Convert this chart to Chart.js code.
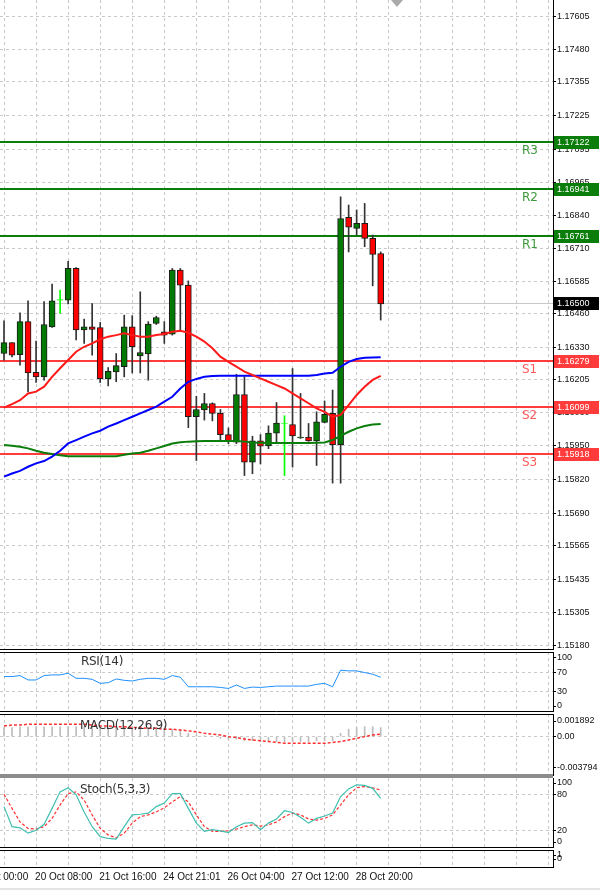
<!DOCTYPE html>
<html><head><meta charset="utf-8">
<script src="https://cdn.jsdelivr.net/npm/chart.js@4"></script>
<style>
body{margin:0;background:#fff;width:600px;height:890px;position:relative;overflow:hidden;font-family:"Liberation Sans",Arial,sans-serif}
canvas{position:absolute;left:0}
.t{position:absolute;font-family:"DejaVu Sans",sans-serif;font-size:12px;color:#333;letter-spacing:-0.3px}
.tri{position:absolute;left:391px;top:0;width:0;height:0;border-left:6px solid transparent;border-right:6px solid transparent;border-top:7px solid #aaa}
</style></head><body>
<canvas id="main" width="600" height="650" style="top:0"></canvas>
<canvas id="rsi" width="600" height="60" style="top:652px"></canvas>
<canvas id="macd" width="600" height="62" style="top:714px"></canvas>
<canvas id="stoch" width="600" height="70" style="top:778px"></canvas>
<canvas id="last" width="600" height="40" style="top:850px"></canvas>
<div style="position:absolute;left:0;top:774px;width:553px;height:4px;background:#8c8c8c"></div>
<div style="position:absolute;left:0;top:888px;width:600px;height:2px;background:#e4e4e4"></div>
<div class="tri"></div>
<div class="t" style="left:81px;top:654px">RSI(14)</div>
<div class="t" style="left:80px;top:718px">MACD(12,26,9)</div>
<div class="t" style="left:80px;top:782px">Stoch(5,3,3)</div>
<script>
// ---- data ----
const slotCount = 69;
const open  = [1.16306,1.16348,1.16302,1.16429,1.16233,1.16216,1.16409,1.16512,1.16512,1.16635,1.16397,1.16409,1.16406,1.16208,1.16235,1.16255,1.16409,1.16297,1.16304,1.16422,1.16390,1.16381,1.16628,1.16570,1.16062,1.16088,1.16113,1.16075,1.15993,1.15964,1.16148,1.15887,1.15969,1.15949,1.15999,1.16036,1.16032,1.15980,1.15984,1.15969,1.16040,1.16075,1.15954,1.16831,1.16789,1.16808,1.16750,1.16692];
const high  = [1.16432,1.16348,1.16463,1.16509,1.16354,1.16506,1.16574,1.16551,1.16662,1.16638,1.16439,1.16499,1.16426,1.16252,1.16306,1.16454,1.16452,1.16544,1.16429,1.16450,1.16429,1.16634,1.16634,1.16586,1.16141,1.16152,1.16116,1.16090,1.16019,1.16226,1.16216,1.15987,1.15993,1.16027,1.16117,1.16066,1.16248,1.16152,1.16036,1.16081,1.16123,1.16165,1.16911,1.16879,1.16860,1.16885,1.16763,1.16698];
const low   = [1.16280,1.16293,1.16261,1.16158,1.16194,1.16203,1.16407,1.16461,1.16497,1.16358,1.16345,1.16300,1.16194,1.16181,1.16197,1.16216,1.16231,1.16231,1.16203,1.16418,1.16345,1.16377,1.16397,1.16020,1.15893,1.16049,1.16046,1.15967,1.15958,1.15958,1.15835,1.15842,1.15880,1.15939,1.15958,1.15835,1.15868,1.15978,1.15967,1.15874,1.16038,1.15806,1.15806,1.16698,1.16763,1.16718,1.16567,1.16435];
const close = [1.16348,1.16300,1.16429,1.16231,1.16216,1.16418,1.16509,1.16512,1.16635,1.16397,1.16409,1.16399,1.16209,1.16237,1.16259,1.16409,1.16332,1.16310,1.16420,1.16445,1.16377,1.16628,1.16570,1.16062,1.16090,1.16113,1.16075,1.15993,1.15967,1.16148,1.15887,1.15969,1.15948,1.15999,1.16038,1.16036,1.15988,1.15984,1.15969,1.16042,1.16071,1.15954,1.16827,1.16793,1.16808,1.16750,1.16688,1.16497];
const maRed = [1.16097,1.16111,1.16126,1.16152,1.16159,1.16178,1.16216,1.16249,1.16281,1.16313,1.16332,1.16345,1.16361,1.16371,1.16377,1.16384,1.16377,1.16371,1.16371,1.16377,1.16381,1.16390,1.16394,1.16386,1.16371,1.16352,1.16326,1.16294,1.16274,1.16255,1.16236,1.16223,1.16210,1.16197,1.16184,1.16171,1.16152,1.16133,1.16114,1.16094,1.16081,1.16062,1.16069,1.16107,1.16146,1.16178,1.16204,1.16220];
const maBlue = [1.15831,1.15843,1.15853,1.15869,1.15882,1.15891,1.15908,1.15931,1.15959,1.15972,1.15985,1.15998,1.16008,1.16024,1.16036,1.16049,1.16062,1.16075,1.16088,1.16101,1.16120,1.16139,1.16171,1.16197,1.16208,1.16216,1.16219,1.16220,1.16220,1.16220,1.16220,1.16220,1.16220,1.16220,1.16220,1.16220,1.16220,1.16220,1.16220,1.16223,1.16229,1.16232,1.16255,1.16274,1.16285,1.16290,1.16291,1.16292];
const maGreen = [1.15953,1.15950,1.15946,1.15940,1.15931,1.15923,1.15918,1.15913,1.15910,1.15910,1.15910,1.15910,1.15910,1.15910,1.15910,1.15915,1.15920,1.15923,1.15931,1.15940,1.15949,1.15959,1.15964,1.15966,1.15967,1.15968,1.15968,1.15968,1.15968,1.15968,1.15966,1.15963,1.15962,1.15961,1.15961,1.15961,1.15961,1.15961,1.15961,1.15962,1.15963,1.15972,1.15988,1.16004,1.16017,1.16026,1.16032,1.16034];
const levelNames  = ["R3","R2","R1","S1","S2","S3"];
const levelValues = [1.17122,1.16941,1.16761,1.16279,1.16099,1.15918];
const lastPrice = 1.16500;
const priceTicks = [1.17605,1.17480,1.17355,1.17225,1.17095,1.16965,1.16840,1.16710,1.16585,1.16460,1.16330,1.16205,1.16080,1.15950,1.15820,1.15690,1.15565,1.15435,1.15305,1.15180];
const rsi = [61.3,61.3,63.4,54.2,54.2,63.4,64.8,64.8,68.3,57.7,57.7,55.6,47.2,48.6,56.3,53.5,52.1,55.6,57.7,57.7,55.6,63.4,59.9,40.1,40.1,40.1,40.1,38.7,36.6,43.7,36.6,39.4,38.7,40.1,41.5,41.5,41.5,41.5,41.5,45.1,47.2,40.1,74.6,73.2,73.2,69.7,66.2,59.9];
const rsiTicks = [0,30,70,100];
const macdHist = [0.0011,0.0011,0.0012,0.0012,0.0012,0.0012,0.0012,0.0012,0.0012,0.0012,0.0012,0.0012,0.0011,0.0011,0.0011,0.0011,0.0011,0.0011,0.0011,0.0011,0.0010,0.0009,0.0008,0.0004,0.0002,0.0001,0.0000,-0.0002,-0.0003,-0.0003,-0.0005,-0.0005,-0.0006,-0.0006,-0.0006,-0.0006,-0.0006,-0.0006,-0.0006,-0.0005,-0.0005,-0.0005,0.0004,0.0009,0.0011,0.0012,0.0012,0.0011];
const macdSignal = [0.0013,0.0014,0.0014,0.0015,0.0015,0.0015,0.0015,0.0015,0.0015,0.0015,0.0015,0.0014,0.0013,0.0013,0.0012,0.0012,0.0011,0.0011,0.0010,0.0010,0.0009,0.0009,0.0008,0.0007,0.0006,0.0004,0.0003,0.0002,0.0000,-0.0001,-0.0003,-0.0004,-0.0005,-0.0006,-0.0007,-0.0008,-0.0008,-0.0008,-0.0008,-0.0008,-0.0008,-0.0007,-0.0006,-0.0004,-0.0002,0.0000,0.0002,0.0003];
const macdTicks = [-0.003794,0,0.001892];
const macdTickLabels = ["-0.003794","0.00","0.001892"];
const stochMain = [60,26,24,15,20,30,57,85,92,80,51,26,9,6,5,26,46,47,49,60,66,82,82,57,32,18,21,19,16,26,32,33,21,32,39,53,50,42,32,40,44,49,77,90,97,96,91,74];
const stochSignal = [81,57,34,23,22,26,40,63,82,85,71,46,23,12,7,15,32,43,46,51,58,68,77,68,46,26,18,18,19,22,26,29,27,29,34,43,49,46,39,37,40,46,63,80,92,94,92,88];
const stochTicks = [0,20,80,100];
const timeLabels = ["19 Oct 00:00","20 Oct 08:00","21 Oct 16:00","24 Oct 21:01","26 Oct 04:00","27 Oct 12:00","28 Oct 20:00"];
const timeLabelSlots = [-4,4,12,20,28,36,44];

// ---- helpers ----
const slots = Array.from({length: slotCount}, (_, i) => String(i));
const AXW = 47;
const tickFont = {family: "Liberation Sans", size: 9};
function xScale(){
  return {type:'category', labels: slots, offset:true,
    afterFit(s){s.height=0; s.paddingLeft=0; s.paddingRight=0;},
    ticks:{display:false, autoSkip:false},
    grid:{offset:false, drawTicks:false, lineWidth:1,
      color:(c)=> (c.index % 4 === 0) ? '#c9c9c9' : 'rgba(0,0,0,0)'},
    border:{display:false, dash:[3,3]}};
}
function yScale(min, max, ticks, labelFn, gridFn){
  return {position:'right', min, max,
    afterFit(s){s.width=AXW; s.paddingTop=0; s.paddingBottom=0;},
    afterBuildTicks(s){ s.ticks = ticks.map(v=>({value:v})); },
    ticks:{font:tickFont, color:'#111', padding:1, autoSkip:false, callback:(v,i)=>labelFn(i)},
    grid:{color: gridFn || (()=> '#c9c9c9'), tickColor:'#000', tickLength:3, lineWidth:1},
    border:{display:false, dash:[3,3]}};
}
function frame(sides){
  return {id:'frame', afterDraw(ch){
    const a = ch.chartArea, c = ch.ctx;
    c.save(); c.strokeStyle='#000'; c.lineWidth=1; c.setLineDash([]);
    c.beginPath();
    const r = Math.round(a.right)+0.5;
    c.moveTo(r, a.top); c.lineTo(r, a.bottom);
    if (sides.top){ c.moveTo(0, a.top+0.5); c.lineTo(r, a.top+0.5); }
    if (sides.bottom){ c.moveTo(0, a.bottom-0.5); c.lineTo(r, a.bottom-0.5); }
    c.stroke(); c.restore();
  }};
}
const base = {responsive:false, animation:false, devicePixelRatio:1,
  layout:{padding:0}, plugins:{legend:{display:false}, tooltip:{enabled:false}}};

// ---- main chart ----
const bodies = open.map((o,i)=> o===close[i] ? [o, o+0.00002] : [o, close[i]]);
const wicks = low.map((l,i)=> [l, high[i]]);
const bodyColors = open.map((o,i)=> o===close[i] ? '#00ff00' : (close[i]>o ? '#007a00' : '#ff0000'));
const bodyBorders = open.map((o,i)=> o===close[i] ? '#00ff00' : '#1a1a1a');
const wickColors = open.map((o,i)=> o===close[i] ? '#00ff00' : '#333333');

const levelsPlugin = {id:'levels',
  beforeDatasetsDraw(ch){
    const y = ch.scales.y, a = ch.chartArea, c = ch.ctx;
    c.save(); c.setLineDash([]);
    const py = Math.round(y.getPixelForValue(lastPrice))+0.5;
    c.strokeStyle='#c8c8c8'; c.lineWidth=1;
    c.beginPath(); c.moveTo(a.left,py); c.lineTo(a.right,py); c.stroke();
    levelValues.forEach((v,i)=>{
      const p = Math.round(y.getPixelForValue(v));
      c.strokeStyle = levelNames[i][0]==='R' ? '#0a7d0a' : '#ff3b3b';
      c.lineWidth = 2;
      c.beginPath(); c.moveTo(a.left,p); c.lineTo(a.right,p); c.stroke();
      c.fillStyle = levelNames[i][0]==='R' ? '#3c9a3c' : '#ff5a5a';
      c.font = '12px "DejaVu Sans"'; c.textAlign='left'; c.textBaseline='middle';
      c.fillText(levelNames[i], 522, p+9);
    });
    c.restore();
  },
  afterDraw(ch){
    const y = ch.scales.y, a = ch.chartArea, c = ch.ctx;
    c.save();
    const tag = (v, bg, txt)=>{
      const p = Math.round(y.getPixelForValue(v));
      c.fillStyle=bg; c.fillRect(a.right+1, p-6, 45, 13);
      c.fillStyle=txt; c.font='9px "Liberation Sans"'; c.textAlign='left'; c.textBaseline='middle';
      c.fillText(v.toFixed(5), a.right+4, p+1);
    };
    levelValues.forEach((v,i)=> tag(v, levelNames[i][0]==='R' ? '#0a7d0a' : '#ff3b3b', '#ffffff'));
    tag(lastPrice, '#000000', '#ffffff');
    c.restore();
  }};

new Chart(document.getElementById('main'), {
  type:'bar',
  data:{labels: slots, datasets:[
    {type:'line', data: maRed, borderColor:'#ff1a1a', borderWidth:2, pointRadius:0, order:0},
    {type:'line', data: maBlue, borderColor:'#0000ff', borderWidth:2, pointRadius:0, order:0},
    {type:'line', data: maGreen, borderColor:'#0a7d0a', borderWidth:2, pointRadius:0, order:0},
    {data: bodies, backgroundColor: bodyColors, borderColor: bodyBorders, borderWidth:1, borderSkipped:false, barThickness:6, grouped:false, order:1},
    {data: wicks, backgroundColor: wickColors, borderWidth:0, barThickness:1, grouped:false, order:2}
  ]},
  options:{...base, scales:{x:xScale(), y:yScale(1.15162, 1.17670, priceTicks, i=>priceTicks[i].toFixed(5))}},
  plugins:[levelsPlugin, frame({bottom:true})]
});

// ---- RSI ----
new Chart(document.getElementById('rsi'), {
  type:'line',
  data:{labels: slots, datasets:[{data: rsi, borderColor:'#1e90ff', borderWidth:1, pointRadius:0}]},
  options:{...base, scales:{x:xScale(), y:yScale(-12.5, 112.5, rsiTicks, i=>String(rsiTicks[i]),
    c=> (c.tick && (c.tick.value===30||c.tick.value===70)) ? '#c9c9c9' : 'rgba(0,0,0,0)')}},
  plugins:[frame({top:true,bottom:true})]
});

// ---- MACD ----
new Chart(document.getElementById('macd'), {
  type:'bar',
  data:{labels: slots, datasets:[
    {type:'line', data: macdSignal, borderColor:'#ff3030', borderWidth:1.5, borderDash:[3,2], pointRadius:0, order:0},
    {data: macdHist, backgroundColor:'#bdbdbd', barThickness:1, grouped:false, order:1}
  ]},
  options:{...base, scales:{x:xScale(), y:yScale(-0.004762, 0.002739, macdTicks, i=>macdTickLabels[i],
    c=> (c.tick && c.tick.value===0) ? '#c9c9c9' : 'rgba(0,0,0,0)')}},
  plugins:[frame({top:true})]
});

// ---- Stochastic ----
new Chart(document.getElementById('stoch'), {
  type:'line',
  data:{labels: slots, datasets:[
    {data: stochMain, borderColor:'#3fbfb0', borderWidth:1.2, pointRadius:0},
    {data: stochSignal, borderColor:'#ff3030', borderWidth:1.2, borderDash:[3,2], pointRadius:0}
  ]},
  options:{...base, scales:{x:xScale(), y:yScale(-10.17, 108.5, stochTicks, i=>String(stochTicks[i]),
    c=> (c.tick && (c.tick.value===20||c.tick.value===80)) ? '#c9c9c9' : 'rgba(0,0,0,0)')}},
  plugins:[frame({bottom:true})]
});

// ---- empty panel + time labels ----
const timePlugin = {id:'time', afterDraw(ch){
  const x = ch.scales.x, c = ch.ctx;
  c.save(); c.fillStyle='#111'; c.font='10px "Liberation Sans"'; c.textAlign='left'; c.textBaseline='middle';
  const step = x.getPixelForValue(1) - x.getPixelForValue(0);
  timeLabels.forEach((t,i)=>{
    const px = x.getPixelForValue(0) + timeLabelSlots[i]*step;
    c.fillText(t, px-1, 27);
  });
  c.restore();
}};
new Chart(document.getElementById('last'), {
  type:'line',
  data:{labels: slots, datasets:[{data: [], pointRadius:0}]},
  options:{...base, layout:{padding:{bottom:22}}, scales:{x:xScale(), y:yScale(-2.25, 2.25, [0,1], i=>String([0,1][i]), ()=> 'rgba(0,0,0,0)')}},
  plugins:[frame({top:true,bottom:true}), timePlugin]
});
</script>
</body></html>
